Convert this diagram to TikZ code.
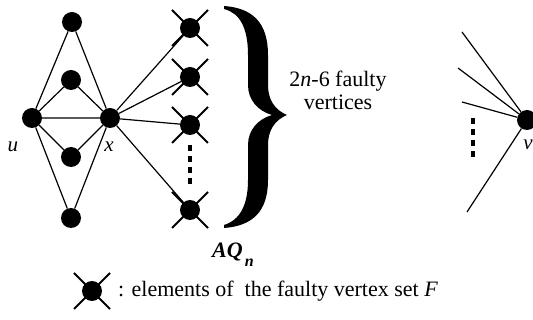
\documentclass[tikz,border=0pt]{standalone}
\usepackage{fontspec}
\setmainfont{Liberation Serif}
\begin{document}
\begin{tikzpicture}[x=1pt,y=-1pt,
  vtx/.style={circle,fill=black,inner sep=0pt,minimum size=20pt},
  edge/.style={line width=1.2pt},
  crossarm/.style={line width=2pt},
  lbl/.style={font=\fontsize{21}{24}\selectfont\itshape, anchor=base, inner sep=0pt},
  dotline/.style={line width=4pt, dash pattern=on 6pt off 5pt},
  txt/.style={font=\fontsize{22}{23}\selectfont, inner sep=0pt}]
\useasboundingbox (0,0) rectangle (533,320);
% vertices
\node[vtx] (t) at (72,22) {};
\node[vtx] (a) at (71,80) {};
\node[vtx] (u) at (32,118) {};
\node[vtx] (x) at (110,118) {};
\node[vtx] (b) at (71,157) {};
\node[vtx] (d) at (71,218) {};
\node[vtx] (f1) at (190,28) {};
\node[vtx] (f2) at (190,77) {};
\node[vtx] (f3) at (190,125) {};
\node[vtx] (f4) at (190,210) {};
\node[vtx] (v) at (527,120) {};
\node[vtx] (leg) at (92,291) {};
% edges
\draw[edge] (u)--(t) (t)--(x) (u)--(a) (a)--(x) (u)--(x) (u)--(b) (b)--(x)
  (u)--(d) (d)--(x) (x)--(f1) (x)--(f2) (x)--(f3) (x)--(f4);
% crosses
\foreach \n in {f1,f2,f3,f4,leg}
  \draw[crossarm] (\n) +(-18,-18) -- +(18,18) (\n) +(-18,18) -- +(18,-18);
% dots
\draw[dotline] (190,145) -- (190,187);
\draw[dotline] (473,118) -- (473,158);
% lines to v
\coordinate (e1) at (462,32);
\coordinate (e2) at (458,68);
\coordinate (e3) at (462,102);
\coordinate (e4) at (467,212);
\draw[edge] (v)--(e1) (v)--(e2) (v)--(e3) (v)--(e4);
% brace
\fill (224,6) .. controls (252,8) and (268,22) .. (268,55) -- (268,85)
  .. controls (268,100) and (275,110) .. (287,115)
  .. controls (275,120) and (268,130) .. (268,145) -- (268,180)
  .. controls (268,212) and (252,226) .. (224,228)
  -- (224,225) .. controls (240,220) and (248,205) .. (248,180) -- (248,145)
  .. controls (248,130) and (258,119) .. (272,115)
  .. controls (258,111) and (248,100) .. (248,85) -- (248,55)
  .. controls (248,28) and (240,13) .. (224,9) -- cycle;
% labels
\node[lbl] (ul) at (13,152) {u};
\node[lbl] (xl) at (109,152) {x};
\node[lbl] (vl) at (528,150) {v};
\node[txt, anchor=base, align=center] (cnt) at (338,110) {2\textit{n}-6 faulty\\vertices};
\node[anchor=base west, inner sep=0pt, font=\fontsize{22}{24}\selectfont\bfseries\itshape] (aq) at (212,258)
  {AQ\hspace{2pt}\raisebox{-9pt}{\fontsize{16}{16}\selectfont n}};
\node[txt, anchor=base west] (lt) at (118,297) {: elements of\ \ the faulty vertex set \textit{F}};
\end{tikzpicture}
\end{document}
